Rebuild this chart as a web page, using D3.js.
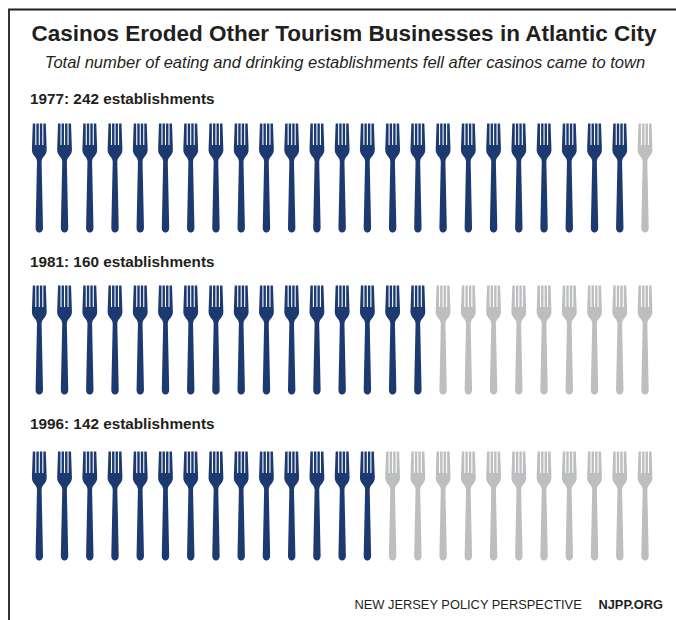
<!DOCTYPE html>
<html>
<head>
<meta charset="utf-8">
<script src="https://cdn.jsdelivr.net/npm/d3@7/dist/d3.min.js"></script>
<style>
  html, body { margin: 0; padding: 0; background: #fff; }
  svg { display: block; }
  text { font-family: "Liberation Sans", Arial, sans-serif; fill: #231f20; }
</style>
</head>
<body>
<script>
const years = [1977, 1981, 1996];
const establishments = [242, 160, 142];
const perFork = 10;
const forksPerRow = 25;
const titleText = "Casinos Eroded Other Tourism Businesses in Atlantic City";
const subtitleText = "Total number of eating and drinking establishments fell after casinos came to town";
const footerLeft = "NEW JERSEY POLICY PERSPECTIVE";
const footerRight = "NJPP.ORG";
const rowTops = [123.5, 285.5, 451.5];
const labelBaselines = [103.5, 266.5, 428.5];

const width = 676, height = 620;
const filled = "#1c3a70", empty = "#bcbec0";

const svg = d3.select("body").append("svg")
  .attr("width", width).attr("height", height);

// Frame runs along the top and left, bleeding off the right and bottom edges.
svg.append("path")
  .attr("d", "M9,620V9.5H676")
  .attr("fill", "none").attr("stroke", "#231f20").attr("stroke-width", 1.8);

svg.append("text").attr("x", 344).attr("y", 41)
  .attr("text-anchor", "middle").attr("font-size", 22.5).attr("font-weight", 700)
  .text(titleText);

svg.append("text").attr("x", 345).attr("y", 68)
  .attr("text-anchor", "middle").attr("font-size", 16.55).attr("font-style", "italic")
  .text(subtitleText);

const x = d3.scalePoint().domain(d3.range(forksPerRow)).range([39.3, 645]);

// Fork outline, origin at the top centre of the head: four tines over a rounded
// shoulder, then a handle that widens towards its rounded end.
const forkShape = (() => {
  const slot = 1.1, tineEnd = 21.5;
  const p = d3.path();
  p.moveTo(-6.5, 0);
  p.lineTo(-4.05, 0);
  [-3.5, 0, 3.5].forEach((c, i) => {
    p.lineTo(c - slot / 2, tineEnd);
    p.lineTo(c + slot / 2, tineEnd);
    p.lineTo(c + slot / 2, 0);
    p.lineTo(i < 2 ? c + 3.5 - slot / 2 : 6.5, 0);
  });
  p.lineTo(7.4, 26);
  p.bezierCurveTo(7.6, 32, 2.6, 33, 2.3, 38);
  p.lineTo(3.7, 104);
  p.bezierCurveTo(3.8, 107.8, 1.6, 109, 0, 109);
  p.bezierCurveTo(-1.6, 109, -3.8, 107.8, -3.7, 104);
  p.lineTo(-2.3, 38);
  p.bezierCurveTo(-2.6, 33, -7.6, 32, -7.4, 26);
  p.closePath();
  return p.toString();
})();

const rows = years.map((year, i) => ({
  year, count: establishments[i], top: rowTops[i], baseline: labelBaselines[i]
}));

const row = svg.selectAll("g.row").data(rows).join("g").attr("class", "row");

row.append("text")
  .attr("x", 30).attr("y", d => d.baseline)
  .attr("font-size", 15.3).attr("font-weight", 700)
  .text(d => `${d.year}: ${d.count} establishments`);

// One fork stands for ten establishments; the remainder of the row stays grey.
row.selectAll("path.fork")
  .data(d => d3.range(forksPerRow).map(k => ({
    k, top: d.top, on: k < Math.floor(d.count / perFork)
  })))
  .join("path")
  .attr("class", "fork")
  .attr("d", forkShape)
  .attr("transform", d => `translate(${x(d.k)},${d.top})`)
  .attr("fill", d => d.on ? filled : empty);

svg.append("text").attr("x", 354.5).attr("y", 608.5)
  .attr("font-size", 12.85).text(footerLeft);
svg.append("text").attr("x", 663).attr("y", 608.5)
  .attr("text-anchor", "end").attr("font-size", 12.8).attr("font-weight", 700)
  .text(footerRight);
</script>
</body>
</html>
